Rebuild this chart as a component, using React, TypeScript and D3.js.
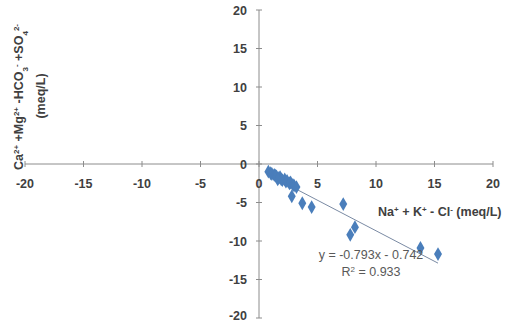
import { useEffect, useRef } from 'react';
import * as d3 from 'd3';

// sample values (meq/L)
const naKCl = [0.8, 1.0, 1.1, 1.3, 1.4, 1.5, 1.7, 1.8, 1.9, 2.0, 2.2, 2.3, 2.4, 2.6, 2.7, 2.9, 3.0, 3.2, 1.6, 2.8, 3.7, 4.5, 7.2, 8.2, 7.8, 13.8, 15.3];
const caMgHco3So4 = [-1.0, -1.2, -1.3, -1.4, -1.5, -1.6, -1.8, -1.7, -2.0, -2.1, -2.0, -2.3, -2.2, -2.5, -2.4, -2.7, -2.8, -3.0, -2.0, -4.2, -5.1, -5.6, -5.2, -8.2, -9.2, -10.9, -11.7];

const xTicks = [-20, -15, -10, -5, 0, 5, 10, 15, 20];
const yTicks = [-20, -15, -10, -5, 0, 5, 10, 15, 20];

const slope = -0.793;
const intercept = -0.742;
const eqLabel = 'y = -0.793x - 0.742';
const r2Label = ' = 0.933';

function App() {
  const svgRef = useRef<SVGSVGElement>(null);

  useEffect(() => {
    const width = 513;
    const height = 322;
    const svg = d3.select(svgRef.current);
    svg.selectAll('*').remove();
    svg.attr('width', width).attr('height', height);

    const x = d3.scaleLinear().domain([-20, 20]).range([25, 493]);
    const y = d3.scaleLinear().domain([-20, 20]).range([318, 10]);

    const font = '"Liberation Sans", Arial, sans-serif';
    const axisColor = '#8c8c8c';
    const textColor = '#404040';

    // axes through origin
    svg.append('line')
      .attr('x1', x(-20)).attr('x2', x(20))
      .attr('y1', y(0)).attr('y2', y(0))
      .attr('stroke', axisColor).attr('stroke-width', 1);
    svg.append('line')
      .attr('x1', x(0)).attr('x2', x(0))
      .attr('y1', y(20)).attr('y2', y(-20))
      .attr('stroke', axisColor).attr('stroke-width', 1);

    // tick marks
    svg.selectAll('.xtick').data(xTicks).enter().append('line')
      .attr('x1', d => x(d)).attr('x2', d => x(d))
      .attr('y1', y(0) - 3).attr('y2', y(0) + 3)
      .attr('stroke', axisColor);
    svg.selectAll('.ytick').data(yTicks).enter().append('line')
      .attr('x1', x(0) - 3).attr('x2', x(0) + 3)
      .attr('y1', d => y(d)).attr('y2', d => y(d))
      .attr('stroke', axisColor);

    // tick labels
    svg.selectAll('.xlab').data(xTicks).enter().append('text')
      .attr('x', d => x(d)).attr('y', y(0) + 24)
      .attr('text-anchor', 'middle')
      .style('font-family', font).style('font-size', '12.5px').style('font-weight', 'bold')
      .attr('fill', textColor)
      .text(d => d);
    svg.selectAll('.ylab').data(yTicks).enter().append('text')
      .attr('x', x(0) - 12).attr('y', d => Math.min(y(d) + 4.5, 320))
      .attr('text-anchor', 'end')
      .style('font-family', font).style('font-size', '12.5px').style('font-weight', 'bold')
      .attr('fill', textColor)
      .text(d => d);

    // trendline
    const [xmin, xmax] = d3.extent(naKCl) as [number, number];
    svg.append('line')
      .attr('x1', x(xmin)).attr('y1', y(slope * xmin + intercept))
      .attr('x2', x(xmax)).attr('y2', y(slope * xmax + intercept))
      .attr('stroke', '#7a8aa3').attr('stroke-width', 1);

    // points
    const diamond = d3.symbol().type(d3.symbolDiamond).size(55);
    svg.selectAll('.pt').data(naKCl).enter().append('path')
      .attr('d', diamond)
      .attr('transform', (d, i) => `translate(${x(d)},${y(caMgHco3So4[i])})`)
      .attr('fill', '#4a7ebb');

    // equation
    const eq = svg.append('text')
      .attr('x', 371).attr('y', 259)
      .attr('text-anchor', 'middle')
      .style('font-family', font).style('font-size', '12.5px')
      .attr('fill', '#595959');
    eq.append('tspan').attr('x', 371).text(eqLabel);
    const r2 = eq.append('tspan').attr('x', 371).attr('dy', 17);
    r2.append('tspan').text('R');
    r2.append('tspan').attr('baseline-shift', 'super').style('font-size', '8px').text('2');
    r2.append('tspan').text(r2Label);

    // x axis title
    const xt = svg.append('text')
      .attr('x', 378).attr('y', 216)
      .style('font-family', font).style('font-size', '12.5px').style('font-weight', 'bold')
      .attr('fill', textColor);
    const sup = (t: d3.Selection<SVGTextElement, unknown, null, undefined>, s: string) =>
      t.append('tspan').attr('baseline-shift', 'super').style('font-size', '8px').text(s);
    const sub = (t: d3.Selection<SVGTextElement, unknown, null, undefined>, s: string) =>
      t.append('tspan').attr('baseline-shift', 'sub').style('font-size', '8px').text(s);
    xt.append('tspan').text('Na');
    sup(xt, '+');
    xt.append('tspan').text(' + K');
    sup(xt, '+');
    xt.append('tspan').text(' - Cl');
    sup(xt, '-');
    xt.append('tspan').text(' (meq/L)');

    // y axis title
    const yt = svg.append('text')
      .attr('transform', 'translate(23,97) rotate(-90)')
      .attr('text-anchor', 'middle')
      .style('font-family', font).style('font-size', '12.5px').style('font-weight', 'bold')
      .attr('fill', textColor);
    yt.append('tspan').text('Ca');
    sup(yt, '2+');
    yt.append('tspan').text(' +Mg');
    sup(yt, '2+');
    yt.append('tspan').text(' -HCO');
    sub(yt, '3');
    sup(yt, '-');
    yt.append('tspan').text(' +SO');
    sub(yt, '4');
    sup(yt, '2-');
    svg.append('text')
      .attr('transform', 'translate(45,96) rotate(-90)')
      .attr('text-anchor', 'middle')
      .style('font-family', font).style('font-size', '12.5px').style('font-weight', 'bold')
      .attr('fill', textColor)
      .text('(meq/L)');
  }, []);

  return (
    <div style={{ position: 'absolute', left: 0, top: 0, background: '#fff' }}>
      <svg ref={svgRef} style={{ display: 'block' }}></svg>
    </div>
  );
}

export default App;
